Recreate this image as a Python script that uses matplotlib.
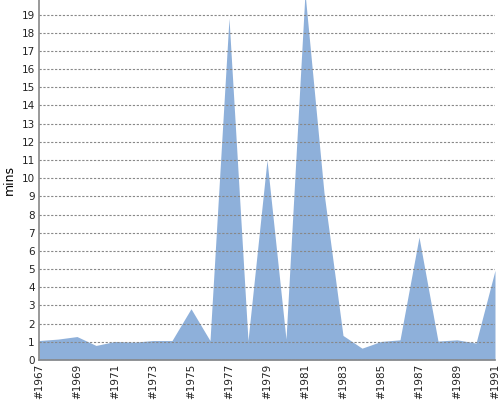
import numpy as np
import matplotlib.pyplot as plt

years = list(range(1967, 1992))
mins = [1.07, 1.15, 1.29, 0.80, 1.02, 0.98, 1.07, 1.07, 2.82, 1.07,
        18.8, 1.07, 11.0, 1.15, 20.2, 9.2, 1.35, 0.65, 1.02, 1.11,
        6.76, 1.04, 1.11, 0.93, 4.93]
tick_years = years[::2]
tick_labels = ["#%d" % y for y in tick_years]

fig = plt.figure(figsize=(5, 4), dpi=100)
ax = fig.add_axes([0.078, 0.1, 0.912, 0.9])

ax.fill_between(years, mins, 0, color="#8eb0da", linewidth=0)

ax.set_xlim(1967, 1991)
ax.set_ylim(0, 19.8)
ax.set_yticks(range(0, 20))
ax.set_xticks(tick_years)
ax.set_xticklabels(tick_labels, rotation=90)
ax.tick_params(axis="both", labelsize=7.5, length=0, pad=3, colors="#222222")
ax.set_ylabel("mins", fontsize=9, labelpad=4)

ax.grid(axis="y", color="#888888", linestyle=(0, (2, 1.5)), linewidth=0.8)
ax.set_axisbelow(False)
for s in ["top", "right"]:
    ax.spines[s].set_visible(False)
for s in ["left", "bottom"]:
    ax.spines[s].set_color("#888888")
    ax.spines[s].set_linewidth(1.2)

fig.savefig("out.png", dpi=100)
